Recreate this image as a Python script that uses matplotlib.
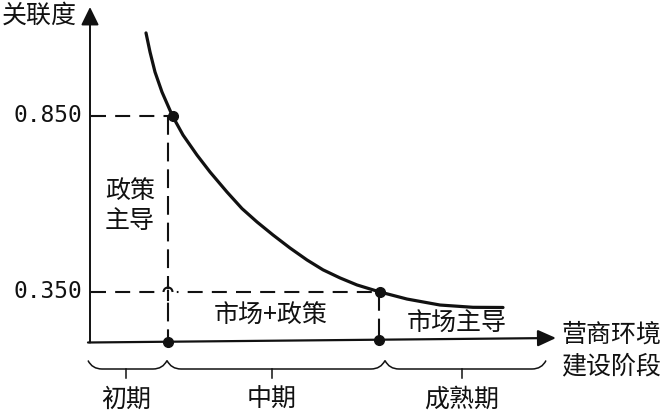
import matplotlib
matplotlib.use('Agg')
import matplotlib.pyplot as plt
from matplotlib.path import Path
from matplotlib.patches import PathPatch, Arc

plt.rcParams['font.family'] = ['Noto Sans CJK SC', 'DejaVu Sans']

# ---------------- data ----------------
y_title = '关联度'
x_title = ['营商环境', '建设阶段']
curve_x = [146, 150, 155, 162, 172.5, 183, 197, 210, 227, 242, 257, 273, 290, 307,
           323, 340, 357, 380, 407, 440, 473, 503]
curve_y = [1.086, 1.032, 0.975, 0.918, 0.850, 0.796, 0.739, 0.691, 0.634, 0.587,
           0.549, 0.512, 0.475, 0.441, 0.413, 0.390, 0.370, 0.350, 0.330, 0.313,
           0.3065, 0.306]
key_x = [172.5, 380]
key_y = [0.850, 0.350]
key_labels = ['0.850', '0.350']
drop_x = [168, 379]
stage_bounds = [88, 167, 385, 546]
stage_centers = [126, 272, 462]
stage_names = ['初期', '中期', '成熟期']
region_labels = ['政策', '主导', '市场+政策', '市场主导']

# ---------------- layout helpers ----------------
def v(py):
    """pixel row -> value on the 关联度 scale"""
    return 0.35 + (292 - py) / 352

C = '#111111'
FS = 18
fig = plt.figure(figsize=(6.67, 4.13), dpi=100)
ax = fig.add_axes([0, 0, 1, 1])
ax.set_xlim(0, 667)
ax.set_ylim(v(413), v(0))
ax.axis('off')

# x axis (slightly tilted as in the reference)
ax_x0, ax_x1 = 88, 556
ay0, ay1 = v(342.5), v(338)
def axis_y(x):
    return ay0 + (x - ax_x0) * (ay1 - ay0) / (ax_x1 - ax_x0)

ax.annotate('', xy=(ax_x1, ay1), xytext=(ax_x0, ay0),
            arrowprops=dict(arrowstyle='-|>,head_length=0.55,head_width=0.25',
                            lw=1.6, color=C, shrinkA=0, shrinkB=0, mutation_scale=20))
# y axis
ax.annotate('', xy=(90, v(7)), xytext=(90, ay0),
            arrowprops=dict(arrowstyle='-|>,head_length=0.55,head_width=0.27',
                            lw=1.4, color=C, shrinkA=0, shrinkB=0, mutation_scale=20))

# curve
ax.plot(curve_x, curve_y, color=C, lw=2.3, solid_capstyle='round',
        solid_joinstyle='round', zorder=3)

hdash = (0, (7.2, 4.4))
vdash = (0, (9.0, 3.8))
dlw = 1.5
# horizontal dashed lines
ax.plot([91, key_x[0]], [key_y[0], key_y[0]], color=C, lw=dlw, linestyle=hdash)
ax.plot([91, key_x[1]], [key_y[1], key_y[1]], color=C, lw=dlw, linestyle=hdash)
# vertical dashed lines
ax.plot([drop_x[0], drop_x[0]], [key_y[0], axis_y(drop_x[0])], color=C, lw=dlw,
        linestyle=vdash, zorder=2)
ax.plot([drop_x[1], drop_x[1]], [key_y[1], axis_y(drop_x[1])], color=C, lw=dlw,
        linestyle=vdash)
# hop at the crossing
hop_r = 4.5
ax.plot([drop_x[0] - hop_r - 1, drop_x[0] + hop_r + 1], [key_y[1], key_y[1]],
        color='white', lw=4, zorder=2.5)
ax.add_patch(Arc((drop_x[0], key_y[1]), 2 * hop_r, 2 * hop_r / 352, theta1=0, theta2=180,
                 color=C, lw=dlw, zorder=2.6))
ax.plot([drop_x[0], drop_x[0]], [key_y[1] + 1 / 352, key_y[1] - 8 / 352], color=C,
        lw=dlw, zorder=2.6)

# dots
ax.plot(key_x, key_y, 'o', color=C, ms=7, zorder=4)
ax.plot(drop_x, [axis_y(x) for x in drop_x], 'o', color=C, ms=7, zorder=4)

# tick labels
for yv, lab in zip(key_y, key_labels):
    ax.text(82, yv, lab, ha='right', va='center', fontsize=16.5,
            family=['DejaVu Sans Mono'], color=C)

# titles
ax.text(2, v(16), y_title, ha='left', va='center', fontsize=FS, color=C)
ax.text(561, v(335), x_title[0], ha='left', va='center', fontsize=FS, color=C)
ax.text(561, v(366), x_title[1], ha='left', va='center', fontsize=FS, color=C)

# region labels
ax.text(130, v(191), region_labels[0], ha='center', va='center', fontsize=FS, color=C)
ax.text(130, v(221), region_labels[1], ha='center', va='center', fontsize=FS, color=C)
ax.text(271, v(316), region_labels[2], ha='center', va='center', fontsize=FS, color=C)
ax.text(457, v(324), region_labels[3], ha='center', va='center', fontsize=FS, color=C)

# braces
top, bot, tip = v(360.5), v(369), v(378)
r = 14
for x0, x1, xc, name in zip(stage_bounds[:-1], stage_bounds[1:], stage_centers, stage_names):
    verts = [(x0, top), (x0 + 0.3 * r, bot), (x0 + r, bot),
             (x1 - r, bot), (x1 - 0.3 * r, bot), (x1, top)]
    codes = [Path.MOVETO, Path.CURVE3, Path.CURVE3, Path.LINETO, Path.CURVE3, Path.CURVE3]
    ax.add_patch(PathPatch(Path(verts, codes), fill=False, lw=1.1, edgecolor=C))
    ax.plot([xc, xc], [bot, tip], color=C, lw=1.1)
    ax.text(xc, v(400), name, ha='center', va='center', fontsize=FS, color=C)

fig.savefig('out.png', dpi=100)
